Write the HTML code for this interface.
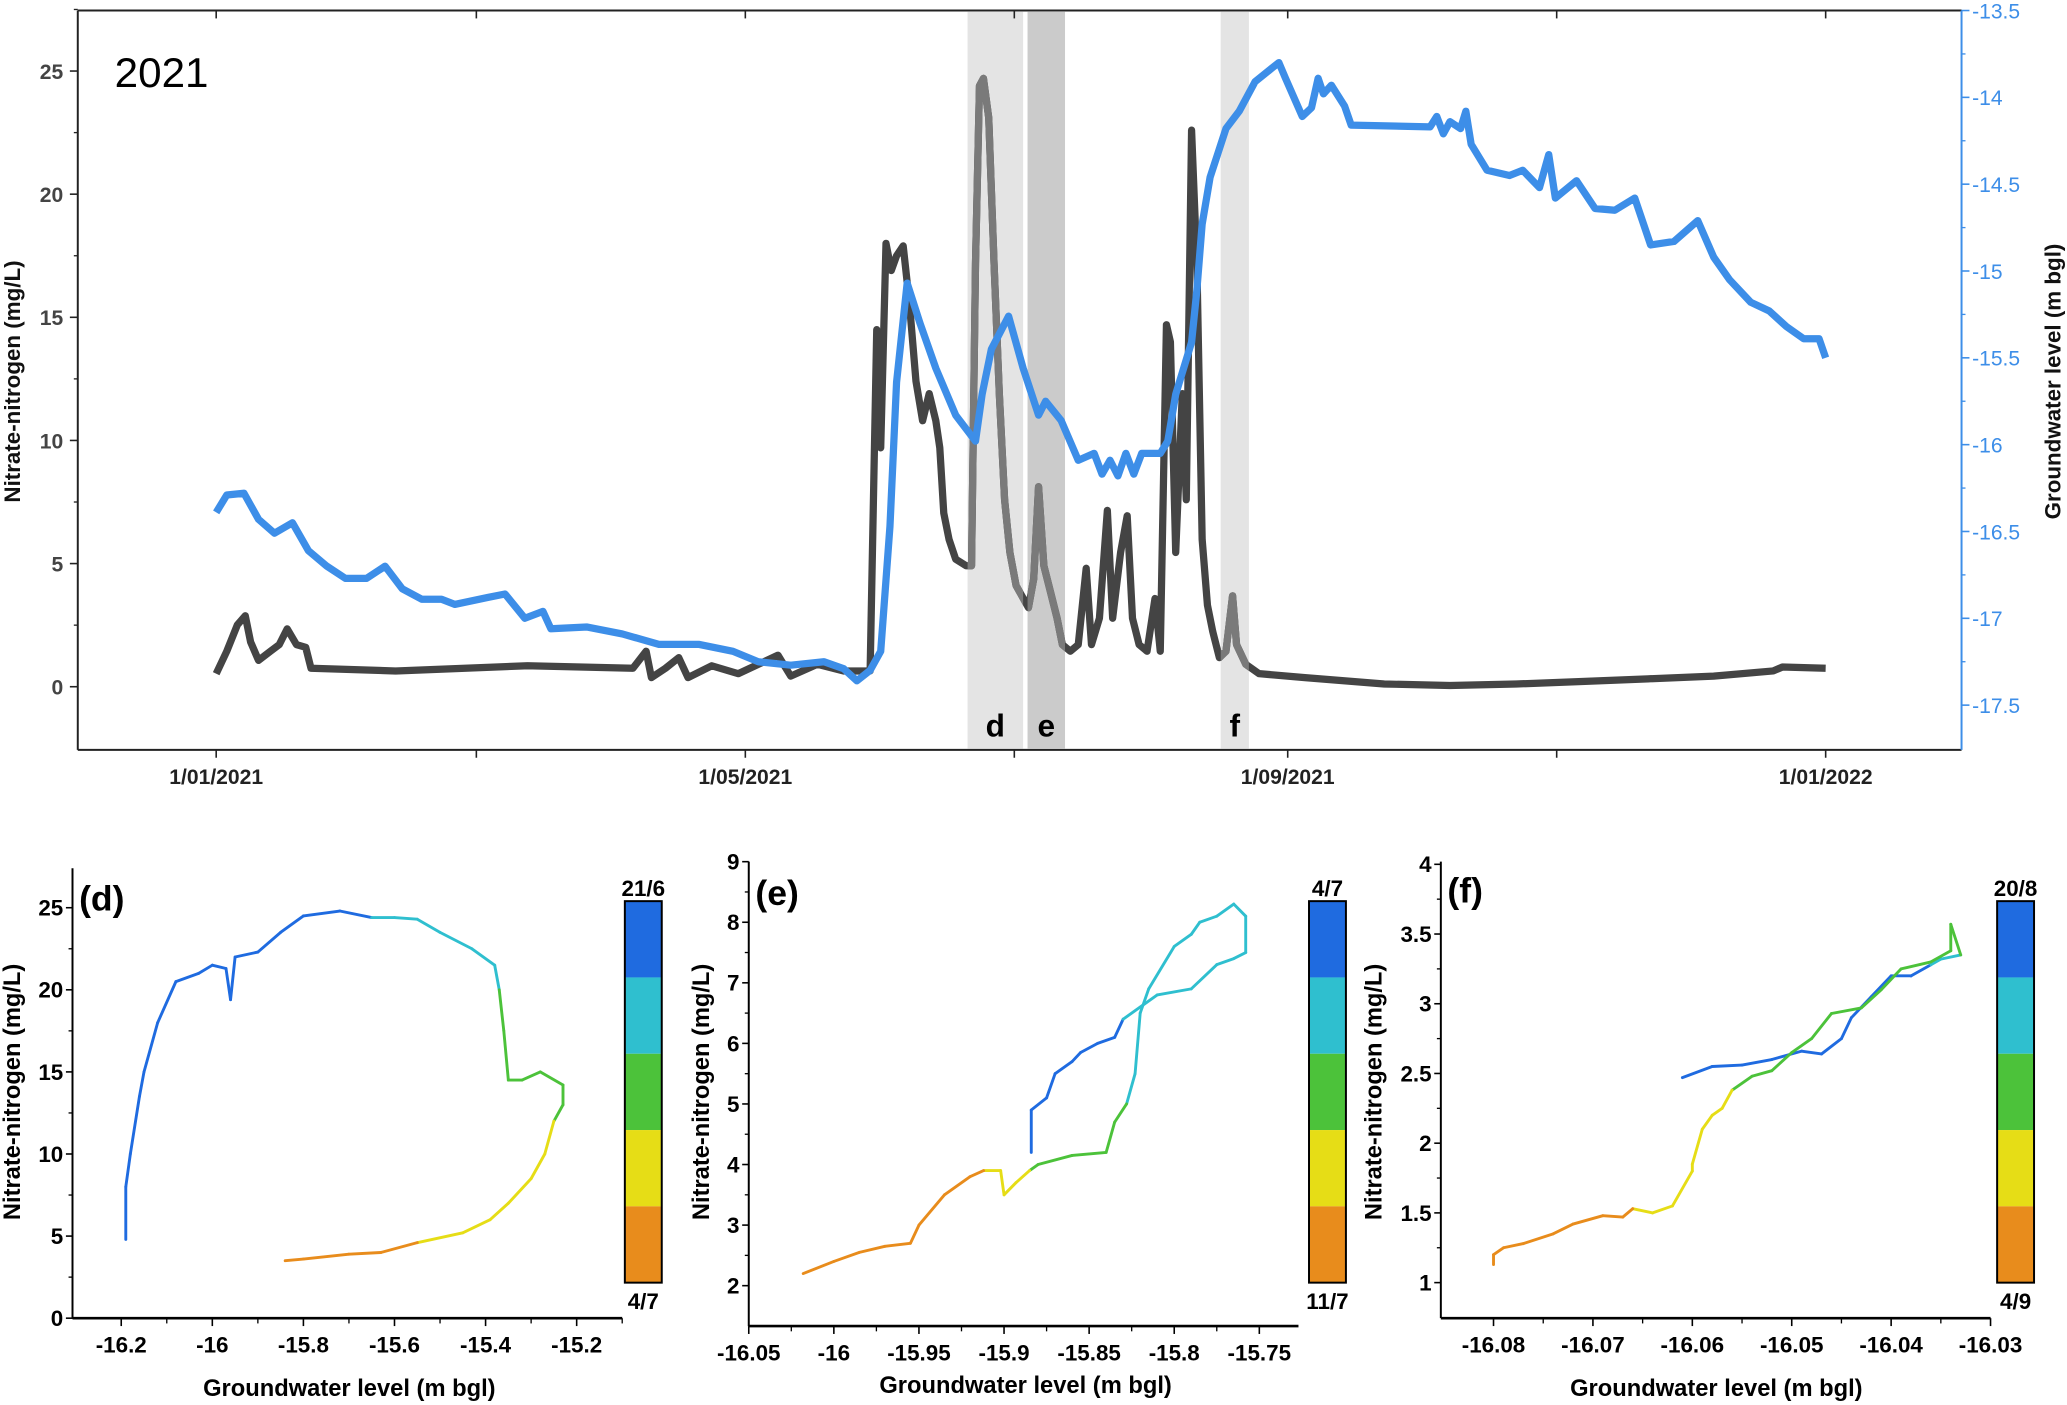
<!DOCTYPE html>
<html><head><meta charset="utf-8"><style>
html,body{margin:0;padding:0;background:#fff;}
svg{display:block;}
text{font-family:"Liberation Sans",Arial,sans-serif;}
</style></head><body>
<svg id="fig" xmlns="http://www.w3.org/2000/svg" width="2067" height="1405" viewBox="0 0 1568 1068" preserveAspectRatio="none"></svg>
<script>
// ---------- main time series data ----------
const nitDays = [0,2.4,4.8,6.6,7.8,9.6,12.3,14.3,16.1,18.2,20.3,21.5,40.7,70.6,94.5,97.5,98.7,101.9,104.9,107,112.4,118.4,127.4,130.3,136.3,142.3,148.3,149.8,150.7,151.9,153.1,154.3,155.8,157.2,158.7,160.2,161.7,163.2,164.1,165.0,166.2,167.7,170.1,171.3,172.2,173.1,174.0,175.2,176.4,177.6,178.8,180.0,181.4,184.2,185.4,186.5,187.7,189.2,190.7,191.9,193.7,195.5,197.3,198.5,200.3,202.1,203.3,205.1,206.6,207.8,209.3,211.1,212.9,214.1,215.5,216.4,217.6,219.1,220.0,221.2,222.4,223.6,224.8,226.0,227.5,229.0,230.5,231.4,233.5,236.5,246.9,264.9,279.8,294.8,309.7,324.7,339.6,353.1,355.2,365];
const nitVals = [0.53,1.44,2.51,2.88,1.82,1.07,1.44,1.71,2.35,1.71,1.6,0.75,0.64,0.85,0.75,1.44,0.37,0.75,1.18,0.37,0.85,0.53,1.28,0.43,0.91,0.64,0.64,14.5,9.7,18.0,16.9,17.5,17.9,15.6,12.4,10.8,11.9,10.8,9.7,7.05,5.98,5.18,4.91,4.91,17.2,24.4,24.7,23.1,17.2,11.9,7.59,5.45,4.11,3.21,4.38,8.12,4.91,3.85,2.78,1.71,1.44,1.71,4.81,1.71,2.78,7.16,2.78,5.45,6.94,2.78,1.71,1.44,3.58,1.44,14.7,14.0,5.45,11.9,7.59,22.6,17.2,5.98,3.31,2.24,1.18,1.44,3.69,1.71,0.91,0.53,0.37,0.11,0.05,0.11,0.21,0.32,0.43,0.64,0.8,0.75];
const gwDays = [0,2.4,6.3,9.6,13.2,17.3,20.9,25.1,29.3,34.1,38.3,42.2,46.6,51.1,54.1,61.6,65.5,70.0,74.1,75.9,84.0,92.1,100.4,109.4,117.2,122.9,130.3,137.8,142.3,145.3,148.3,150.7,152.8,154.3,156.7,159.6,163.2,167.7,172.2,173.7,175.8,179.7,183.0,186.5,188.1,191.6,195.5,199.1,200.9,202.7,204.5,206.3,208.1,209.9,214.1,215.8,217.6,221.2,222.4,223.6,225.4,229.0,232.0,235.6,239.5,241.0,242.5,246.3,248.4,249.9,251.1,252.9,255.9,257.4,275.3,276.8,278.3,279.8,282.2,283.4,284.6,288.2,293.3,296.3,300.1,302.2,303.7,308.5,312.7,317.2,321.7,325.3,330.6,336.0,339.6,343.2,348.0,352.2,356.1,360.0,363.5,365];
const gwVals = [-16.39,-16.29,-16.28,-16.43,-16.51,-16.45,-16.61,-16.70,-16.77,-16.77,-16.70,-16.83,-16.89,-16.89,-16.92,-16.88,-16.86,-17.00,-16.96,-17.06,-17.05,-17.09,-17.15,-17.15,-17.19,-17.25,-17.27,-17.25,-17.29,-17.36,-17.30,-17.19,-16.47,-15.64,-15.07,-15.30,-15.56,-15.83,-15.98,-15.71,-15.45,-15.26,-15.56,-15.83,-15.75,-15.86,-16.09,-16.05,-16.17,-16.09,-16.18,-16.05,-16.17,-16.05,-16.05,-15.98,-15.71,-15.41,-15.11,-14.73,-14.46,-14.18,-14.08,-13.91,-13.83,-13.80,-13.89,-14.11,-14.06,-13.89,-13.98,-13.93,-14.05,-14.16,-14.17,-14.11,-14.21,-14.14,-14.18,-14.08,-14.27,-14.42,-14.45,-14.42,-14.52,-14.33,-14.58,-14.48,-14.64,-14.65,-14.58,-14.85,-14.83,-14.71,-14.92,-15.05,-15.18,-15.23,-15.32,-15.39,-15.39,-15.50];
const monthTickDays = [0,59,120,181,243,304,365];
const monthLabels = ["1/01/2021","","1/05/2021","","1/09/2021","","1/01/2022"];
const leftTicks = [0,5,10,15,20,25];
const rightTicks = [-13.5,-14,-14.5,-15,-15.5,-16,-16.5,-17,-17.5];
const shadeStart = [170.4, 184.0, 227.8];
const shadeEnd = [183.0, 192.5, 234.2];
const shadeNames = ["d","e","f"];

// ---------- hysteresis panels ----------
const dGw = [-16.19,-16.19,-16.18,-16.16,-16.15,-16.12,-16.08,-16.03,-16.0,-15.97,-15.96,-15.95,-15.9,-15.85,-15.8,-15.72,-15.65,-15.6,-15.55,-15.5,-15.43,-15.38,-15.37,-15.36,-15.35,-15.32,-15.28,-15.23,-15.23,-15.25,-15.27,-15.3,-15.35,-15.39,-15.45,-15.55,-15.63,-15.7,-15.8,-15.84];
const dNo3 = [4.8,8,10,13.5,15,18,20.5,21,21.5,21.3,19.4,22,22.3,23.5,24.5,24.8,24.4,24.4,24.3,23.5,22.5,21.5,20,17.5,14.5,14.5,15,14.2,13,12,10,8.5,7,6,5.2,4.6,4.0,3.9,3.6,3.5];
const dBand = [0,0,0,0,0,0,0,0,0,0,0,0,0,0,0,0,0,1,1,1,1,1,1,2,2,2,2,2,2,2,3,3,3,3,3,3,4,4,4,4];

const eGw = [-15.884,-15.884,-15.875,-15.87,-15.86,-15.855,-15.845,-15.835,-15.83,-15.81,-15.79,-15.775,-15.765,-15.758,-15.758,-15.765,-15.775,-15.785,-15.79,-15.8,-15.815,-15.82,-15.823,-15.828,-15.835,-15.84,-15.86,-15.88,-15.885,-15.893,-15.9,-15.902,-15.912,-15.92,-15.935,-15.95,-15.955,-15.97,-15.985,-16.0,-16.018];
const eNo3 = [4.2,4.9,5.1,5.5,5.7,5.85,6.0,6.1,6.4,6.8,6.9,7.3,7.4,7.5,8.1,8.3,8.1,8.0,7.8,7.6,6.9,6.5,5.5,5.0,4.7,4.2,4.15,4.0,3.9,3.7,3.5,3.9,3.9,3.8,3.5,3.0,2.7,2.65,2.55,2.4,2.2];
const eBand = [0,0,0,0,0,0,0,0,0,1,1,1,1,1,1,1,1,1,1,1,1,1,1,1,2,2,2,2,2,3,3,3,3,4,4,4,4,4,4,4,4];

const fGw = [-16.061,-16.058,-16.055,-16.052,-16.049,-16.047,-16.045,-16.044,-16.042,-16.040,-16.038,-16.036,-16.035,-16.033,-16.034,-16.034,-16.036,-16.039,-16.041,-16.043,-16.046,-16.048,-16.05,-16.052,-16.054,-16.056,-16.057,-16.058,-16.059,-16.060,-16.060,-16.062,-16.064,-16.066,-16.067,-16.069,-16.072,-16.074,-16.077,-16.079,-16.080,-16.080];
const fNo3 = [2.47,2.55,2.56,2.6,2.66,2.64,2.75,2.9,3.05,3.2,3.2,3.28,3.32,3.35,3.57,3.38,3.3,3.25,3.1,2.97,2.93,2.75,2.65,2.52,2.48,2.38,2.25,2.2,2.1,1.85,1.8,1.55,1.5,1.53,1.47,1.48,1.42,1.35,1.28,1.25,1.2,1.13];
const fBand = [0,0,0,0,0,0,0,0,0,0,0,0,1,1,2,2,2,2,2,2,2,2,2,2,2,2,3,3,3,3,3,3,3,3,4,4,4,4,4,4,4,4];
const bandColors = ["#1f6be0","#2fbfcf","#4cc23a","#e6dd16","#e88c1c"];

const NS="http://www.w3.org/2000/svg";
const svg=document.getElementById('fig');
function mk(tag,attrs,parent){const e=document.createElementNS(NS,tag);for(const k in attrs)e.setAttribute(k,attrs[k]);(parent||svg).appendChild(e);return e;}
function txt(s,attrs,parent){const e=mk('text',attrs,parent);e.textContent=s;return e;}

// ---------- main chart ----------
const sx=d=>164+d*3.345, syL=v=>522-v*18.72, syR=v=>8+(-13.5-v)*132;
const main=mk('g',{});


shadeStart.forEach((s,i)=>{
  const r=mk('rect',{x:sx(s),y:9,width:sx(shadeEnd[i])-sx(s),height:560,fill:i==1?'#cbcbcb':'#e4e4e4'},main);
  
  
  const t=txt(shadeNames[i],{x:(sx(s)+sx(shadeEnd[i]))/2,y:560,'text-anchor':'middle','font-size':24,'font-weight':'bold',fill:'#000'},main);
  
  
});
const nitPts=nitDays.map((d,i)=>sx(d)+','+syL(nitVals[i])).join(' ');
const nl=mk('polyline',{points:nitPts,fill:'none',stroke:'#444','stroke-width':5.5,'stroke-linejoin':'round'},main);


const cp=mk('clipPath',{id:'shadeclip'},main);
shadeStart.forEach((s,i)=>{mk('rect',{x:sx(s),y:0,width:sx(shadeEnd[i])-sx(s),height:600},cp);});
const nl2=mk('polyline',{points:nitPts,fill:'none',stroke:'#7a7a7a','stroke-width':5.5,'stroke-linejoin':'round','clip-path':'url(#shadeclip)'},main);


const gl=mk('polyline',{points:gwDays.map((d,i)=>sx(d)+','+syR(gwVals[i])).join(' '),fill:'none',stroke:'#3d8ee8','stroke-width':5.5,'stroke-linejoin':'round'},main);


// frame
mk('line',{x1:59,y1:8,x2:1488,y2:8,stroke:'#222','stroke-width':1.5},main);
mk('line',{x1:59,y1:8,x2:59,y2:570,stroke:'#222','stroke-width':1.5},main);
mk('line',{x1:59,y1:570,x2:1488,y2:570,stroke:'#222','stroke-width':1.5},main);
mk('line',{x1:1488,y1:8,x2:1488,y2:570,stroke:'#3d8ee8','stroke-width':1.5},main);
leftTicks.forEach(v=>{
  mk('line',{x1:53,y1:syL(v),x2:59,y2:syL(v),stroke:'#222','stroke-width':1.2},main);
  mk('line',{x1:56,y1:syL(v+2.5),x2:59,y2:syL(v+2.5),stroke:'#222','stroke-width':1},main);
  const t=txt(String(v),{x:48,y:syL(v)+6,'text-anchor':'end','font-size':16,'font-weight':'bold',fill:'#444'},main);
  
  
});
rightTicks.forEach(v=>{
  mk('line',{x1:1488,y1:syR(v),x2:1494,y2:syR(v),stroke:'#3d8ee8','stroke-width':1.2},main);
  if(v>-17.5) mk('line',{x1:1488,y1:syR(v-0.25),x2:1491,y2:syR(v-0.25),stroke:'#3d8ee8','stroke-width':1},main);
  const t=txt(String(v),{x:1496,y:syR(v)+6,'font-size':16,fill:'#3d8ee8'},main);
  
  
});
monthTickDays.forEach((d,i)=>{
  mk('line',{x1:sx(d),y1:570,x2:sx(d),y2:576,stroke:'#222','stroke-width':1.2},main);
  mk('line',{x1:sx(d),y1:8,x2:sx(d),y2:14,stroke:'#222','stroke-width':1.2},main);
  if(monthLabels[i]){const t=txt(monthLabels[i],{x:sx(d),y:596,'text-anchor':'middle','font-size':16,'font-weight':'bold',fill:'#222'},main);
  
  }
});
const yl=txt('Nitrate-nitrogen (mg/L)',{x:0,y:0,transform:'translate(15,290) rotate(-90)','text-anchor':'middle','font-size':17,'font-weight':'bold',fill:'#111'},main);


const yr=txt('Groundwater level (m bgl)',{x:0,y:0,transform:'translate(1563,290) rotate(-90)','text-anchor':'middle','font-size':17,'font-weight':'bold',fill:'#111'},main);


const yt=txt('2021',{x:87,y:66,'font-size':32,fill:'#000'},main);



// ---------- panels ----------
function panel(cfg){
  const g=mk('g',{});
  
  
  const X=v=>cfg.x0+(v-cfg.xmin)/(cfg.xmax-cfg.xmin)*(cfg.x1-cfg.x0);
  const Y=v=>cfg.y1-(v-cfg.ymin)/(cfg.ymax-cfg.ymin)*(cfg.y1-cfg.y0);
  for(let i=0;i<cfg.gw.length-1;i++){
    const s=mk('line',{x1:X(cfg.gw[i]),y1:Y(cfg.no3[i]),x2:X(cfg.gw[i+1]),y2:Y(cfg.no3[i+1]),stroke:bandColors[cfg.band[i+1]],'stroke-width':2.2,'stroke-linecap':'round'},g);
    
    
  }
  mk('line',{x1:cfg.x0,y1:cfg.ytop,x2:cfg.x0,y2:cfg.y1,stroke:'#000','stroke-width':1.5},g);
  mk('line',{x1:cfg.x0,y1:cfg.y1,x2:cfg.x1,y2:cfg.y1,stroke:'#000','stroke-width':2},g);
  cfg.yt.forEach(v=>{
    mk('line',{x1:cfg.x0-5,y1:Y(v),x2:cfg.x0,y2:Y(v),stroke:'#000','stroke-width':1.2},g);
    if(Y(v+cfg.ystep/2)>=cfg.ytop) mk('line',{x1:cfg.x0-3,y1:Y(v+cfg.ystep/2),x2:cfg.x0,y2:Y(v+cfg.ystep/2),stroke:'#000','stroke-width':1},g);
    const t=txt(String(v),{x:cfg.x0-7,y:Y(v)+6,'text-anchor':'end','font-size':17,'font-weight':'bold',fill:'#000'},g);
    
    
  });
  cfg.xt.forEach(v=>{
    mk('line',{x1:X(v),y1:cfg.y1,x2:X(v),y2:cfg.y1+6,stroke:'#000','stroke-width':1.2},g);
    if(X(v+cfg.xstep/2)<=cfg.x1) mk('line',{x1:X(v+cfg.xstep/2),y1:cfg.y1,x2:X(v+cfg.xstep/2),y2:cfg.y1+4,stroke:'#000','stroke-width':1},g);
    const t=txt(String(v),{x:X(v),y:cfg.y1+26,'text-anchor':'middle','font-size':17,'font-weight':'bold',fill:'#000'},g);
    
    
  });
  const xl=txt('Groundwater level (m bgl)',{x:cfg.xlab,y:cfg.xlaby,'text-anchor':'middle','font-size':18,'font-weight':'bold',fill:'#000'},g);
  
  
  const ylb=txt('Nitrate-nitrogen (mg/L)',{x:0,y:0,transform:'translate('+cfg.ylabx+',830) rotate(-90)','text-anchor':'middle','font-size':18,'font-weight':'bold',fill:'#000'},g);
  
  
  const tt=txt('('+cfg.id+')',{x:cfg.x0+5,y:cfg.titleY,'font-size':27,'font-weight':'bold',fill:'#000'},g);
  
  
  const cb=mk('g',{},g);
  
  
  const bh=(975-685)/5;
  bandColors.forEach((c,i)=>mk('rect',{x:cfg.cbx,y:685+i*bh,width:28,height:bh,fill:c},cb));
  mk('rect',{x:cfg.cbx,y:685,width:28,height:290,fill:'none',stroke:'#000','stroke-width':1.5},cb);
  txt(cfg.dTop,{x:cfg.cbx+14,y:681,'text-anchor':'middle','font-size':17,'font-weight':'bold',fill:'#000'},cb);
  txt(cfg.dBot,{x:cfg.cbx+14,y:995,'text-anchor':'middle','font-size':17,'font-weight':'bold',fill:'#000'},cb);
}
panel({id:'d',x0:55,x1:472,xmin:-16.307,xmax:-15.1,y0:690,y1:1002,ymin:0,ymax:25,ytop:660,yt:[0,5,10,15,20,25],ystep:5,xt:[-16.2,-16,-15.8,-15.6,-15.4,-15.2],xstep:0.2,gw:dGw,no3:dNo3,band:dBand,cbx:474,dTop:'21/6',dBot:'4/7',xlab:265,xlaby:1061,ylabx:15,titleY:692});
panel({id:'e',x0:568,x1:985,xmin:-16.05,xmax:-15.727,y0:655,y1:1008,ymin:1.333,ymax:9,ytop:655,yt:[2,3,4,5,6,7,8,9],ystep:1,xt:[-16.05,-16,-15.95,-15.9,-15.85,-15.8,-15.75],xstep:0.05,gw:eGw,no3:eNo3,band:eBand,cbx:993,dTop:'4/7',dBot:'11/7',xlab:778,xlaby:1059,ylabx:538,titleY:688});
panel({id:'f',x0:1093,x1:1510,xmin:-16.0853,xmax:-16.03,y0:657,y1:1002,ymin:0.745,ymax:4,ytop:655,yt:[1,1.5,2,2.5,3,3.5,4],ystep:0.5,xt:[-16.08,-16.07,-16.06,-16.05,-16.04,-16.03],xstep:0.01,gw:fGw,no3:fNo3,band:fBand,cbx:1515,dTop:'20/8',dBot:'4/9',xlab:1302,xlaby:1061,ylabx:1048,titleY:686});
</script>
</body></html>
